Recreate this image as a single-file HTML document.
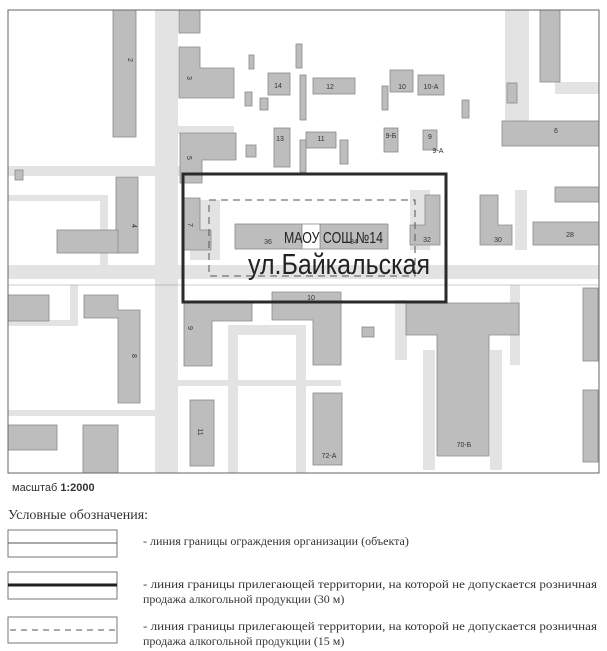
<!DOCTYPE html>
<html><head><meta charset="utf-8"><style>
html,body{margin:0;padding:0;background:#fff;width:607px;height:651px;overflow:hidden}
svg{display:block}
.b{fill:#bdbdbd;stroke:#8a8a8a;stroke-width:0.8}
.r{fill:#e3e3e3}
.n{font-family:"Liberation Sans",sans-serif;font-size:7px;fill:#333}
.lg{font-family:"Liberation Serif",serif;font-size:12px;fill:#333}
</style></head><body>
<svg width="607" height="651" viewBox="0 0 607 651" xmlns="http://www.w3.org/2000/svg">
<rect x="0" y="0" width="607" height="651" fill="#fff"/>
<!-- roads -->
<g class="r">
<rect x="155" y="10" width="23" height="463"/>
<rect x="8" y="265" width="591" height="14"/>
<rect x="8" y="166" width="190" height="10"/>
<rect x="178" y="126" width="56" height="8"/>
<rect x="8" y="195" width="100" height="6"/>
<rect x="100" y="195" width="8" height="80"/>
<rect x="70" y="285" width="8" height="40"/>
<rect x="8" y="320" width="70" height="6"/>
<rect x="8" y="410" width="170" height="6"/>
<rect x="176" y="380" width="165" height="6"/>
<rect x="228" y="330" width="10" height="143"/>
<rect x="228" y="325" width="75" height="10"/>
<rect x="296" y="325" width="10" height="148"/>
<rect x="395" y="300" width="12" height="60"/>
<rect x="423" y="350" width="12" height="120"/>
<rect x="490" y="350" width="12" height="120"/>
<rect x="510" y="285" width="10" height="80"/>
<rect x="505" y="10" width="24" height="130"/>
<rect x="555" y="82" width="44" height="12"/>
<rect x="410" y="190" width="20" height="60"/>
<rect x="515" y="190" width="12" height="60"/>
<rect x="190" y="200" width="30" height="60"/>
</g>
<!-- buildings -->
<g class="b">
<rect x="113" y="10" width="23" height="127"/>
<rect x="179" y="10" width="21" height="23"/>
<path d="M179 47h21v21h34v30h-55z"/>
<path d="M180 133h56v27h-34v23h-22z"/>
<rect x="116" y="177" width="22" height="76"/>
<rect x="57" y="230" width="61" height="23"/>
<path d="M184 198h16v32h11v20h-27z"/>
<rect x="268" y="73" width="22" height="22"/>
<rect x="313" y="78" width="42" height="16"/>
<rect x="390" y="70" width="23" height="22"/>
<rect x="418" y="75" width="26" height="20"/>
<rect x="274" y="128" width="16" height="39"/>
<rect x="306" y="132" width="30" height="16"/>
<rect x="384" y="128" width="14" height="24"/>
<rect x="423" y="130" width="14" height="20"/>
<rect x="502" y="121" width="97" height="25"/>
<rect x="540" y="10" width="20" height="72"/>
<rect x="507" y="83" width="10" height="20"/>
<rect x="555" y="187" width="44" height="15"/>
<rect x="533" y="222" width="66" height="23"/>
<path d="M480 195h18v30h14v20h-32z"/>
<path d="M425 195h15v50h-30v-20h15z"/>
<rect x="235" y="224" width="67" height="25"/>
<rect x="320" y="224" width="68" height="25"/>
<rect x="302" y="224" width="18" height="25" fill="#fff"/>
<rect x="8" y="295" width="41" height="26"/>
<path d="M84 295h34v15h22v93h-22v-85h-34z"/>
<path d="M184 303h68v18h-40v45h-28z"/>
<path d="M272 292h69v73h-28v-45h-41z"/>
<path d="M406 303h113v32h-30v121h-52v-121h-31z"/>
<rect x="583" y="288" width="15" height="73"/>
<rect x="583" y="390" width="15" height="72"/>
<rect x="190" y="400" width="24" height="66"/>
<rect x="313" y="393" width="29" height="72"/>
<rect x="8" y="425" width="49" height="25"/>
<rect x="83" y="425" width="35" height="48"/>
<rect x="362" y="327" width="12" height="10"/>
<rect x="249" y="55" width="5" height="14"/>
<rect x="296" y="44" width="6" height="24"/>
<rect x="245" y="92" width="7" height="14"/>
<rect x="260" y="98" width="8" height="12"/>
<rect x="300" y="75" width="6" height="45"/>
<rect x="382" y="86" width="6" height="24"/>
<rect x="462" y="100" width="7" height="18"/>
<rect x="246" y="145" width="10" height="12"/>
<rect x="300" y="140" width="6" height="32"/>
<rect x="340" y="140" width="8" height="24"/>
<rect x="15" y="170" width="8" height="10"/>
</g>
<!-- frame -->
<rect x="8" y="10" width="591" height="463" fill="none" stroke="#666" stroke-width="1"/>
<line x1="8" y1="285" x2="599" y2="285" stroke="#999" stroke-width="0.6"/>
<!-- labels -->
<g class="n" text-anchor="middle">
<text x="278" y="88">14</text><text x="330" y="89">12</text><text x="402" y="89">10</text><text x="431" y="89">10-А</text>
<text x="280" y="141">13</text><text x="321" y="141">11</text><text x="391" y="138">9-Б</text><text x="430" y="139">9</text><text x="438" y="153">9-А</text>
<text x="556" y="133">6</text><text x="570" y="237">28</text><text x="498" y="242">30</text><text x="427" y="242">32</text>
<text x="268" y="244">36</text><text x="354" y="244">34</text><text x="311" y="300">10</text>
<text x="464" y="447">70-Б</text><text x="329" y="458">72-А</text>
</g>
<g class="n" text-anchor="middle">
<text transform="translate(128,60) rotate(90)">2</text>
<text transform="translate(187,78) rotate(90)">3</text>
<text transform="translate(187,158) rotate(90)">5</text>
<text transform="translate(132,226) rotate(90)">4</text>
<text transform="translate(188,225) rotate(90)">7</text>
<text transform="translate(188,328) rotate(90)">9</text>
<text transform="translate(132,356) rotate(90)">8</text>
<text transform="translate(198,432) rotate(90)">11</text>
</g>
<!-- boundaries -->
<rect x="209" y="200" width="206" height="76" fill="none" stroke="#555" stroke-width="1" stroke-dasharray="7,5"/>
<rect x="183" y="174" width="263" height="128" fill="none" stroke="#2a2a2a" stroke-width="3"/>
<text x="284" y="243" font-family="Liberation Sans,sans-serif" font-size="16" fill="#222" textLength="99" lengthAdjust="spacingAndGlyphs">МАОУ СОШ №14</text>
<text x="248" y="274" font-family="Liberation Sans,sans-serif" font-size="29" fill="#222" textLength="182" lengthAdjust="spacingAndGlyphs">ул.Байкальская</text>
<!-- legend -->
<text x="12" y="491" font-family="Liberation Sans,sans-serif" font-size="11" fill="#333">масштаб <tspan font-weight="bold">1:2000</tspan></text>
<text x="8" y="519" font-family="Liberation Serif,serif" font-size="14" fill="#333">Условные обозначения:</text>
<rect x="8" y="530" width="109" height="27" fill="none" stroke="#777"/>
<line x1="8" y1="543" x2="117" y2="543" stroke="#555" stroke-width="1"/>
<rect x="8" y="572" width="109" height="27" fill="none" stroke="#777"/>
<line x1="8" y1="585" x2="117" y2="585" stroke="#222" stroke-width="3"/>
<rect x="8" y="617" width="109" height="26" fill="none" stroke="#777"/>
<line x1="10" y1="630" x2="117" y2="630" stroke="#555" stroke-width="1" stroke-dasharray="6,5"/>
<text class="lg" x="143" y="545">- линия границы ограждения организации (объекта)</text>
<text class="lg" x="143" y="588" textLength="454" lengthAdjust="spacingAndGlyphs">- линия границы прилегающей территории, на которой не допускается розничная</text>
<text class="lg" x="143" y="603">продажа алкогольной продукции (30 м)</text>
<text class="lg" x="143" y="630" textLength="454" lengthAdjust="spacingAndGlyphs">- линия границы прилегающей территории, на которой не допускается розничная</text>
<text class="lg" x="143" y="645">продажа алкогольной продукции (15 м)</text>
</svg>
</body></html>
